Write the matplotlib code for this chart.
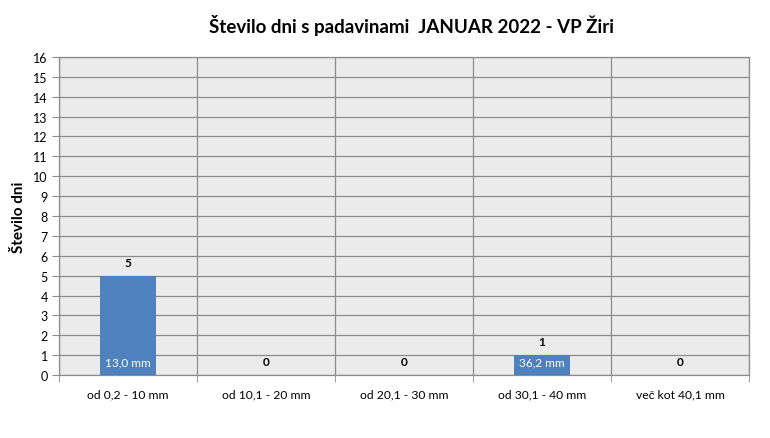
#!/usr/bin/env python3
"""Število dni s padavinami, JANUAR 2022 - VP Žiri."""

import matplotlib
matplotlib.use("Agg")
import matplotlib.pyplot as plt
import numpy as np

categories = ["od 0,2 - 10 mm", "od 10,1 - 20 mm", "od 20,1 - 30 mm",
              "od 30,1 - 40 mm", "več kot 40,1 mm"]
days = [5, 0, 0, 1, 0]
amounts = ["13,0 mm", "", "", "36,2 mm", ""]

BAR = "#4F81BD"
GRID = "#8C8C8C"
BG = "#EBEBEB"

plt.rcParams["font.family"] = ["Lato", "DejaVu Sans"]

fig = plt.figure(figsize=(7.7, 4.39), dpi=100)
ax = fig.add_axes([0.0766, 0.1435, 0.8961, 0.7244])
ax.set_facecolor(BG)

x = np.arange(len(categories))
bars = ax.bar(x, days, width=0.4, color=BAR, zorder=3)

for xi, d, a in zip(x, days, amounts):
    ax.annotate(str(d), (xi, d), textcoords="offset points", xytext=(0, 9.5),
                ha="center", va="center", fontsize=8.5, fontweight="bold", zorder=4)
    if a:
        ax.annotate(a, (xi, 0), textcoords="offset points", xytext=(0, 9.5),
                    ha="center", va="center", fontsize=8.5, color="white", zorder=4)

ax.set_xlim(-0.5, len(categories) - 0.5)
ax.set_ylim(0, 16)
ax.set_yticks(range(0, 17))
ax.set_xticks(x)
ax.set_xticklabels(categories, fontsize=8.7)
ax.set_xticks(np.arange(-0.5, len(categories)), minor=True)
ax.tick_params(axis="x", which="major", length=0, pad=10)
ax.tick_params(axis="x", which="minor", length=5, color=GRID)
ax.tick_params(axis="y", length=5, color=GRID, labelsize=9, pad=3)

ax.grid(True, axis="y", color=GRID, linewidth=0.9, zorder=1)
ax.grid(True, axis="x", which="minor", color=GRID, linewidth=0.9, zorder=1)
ax.set_axisbelow(True)
for sp in ax.spines.values():
    sp.set_color(GRID)
    sp.set_linewidth(0.9)

ax.set_ylabel("Število dni", fontsize=11, fontweight="bold", labelpad=5)
fig.suptitle("Število dni s padavinami  JANUAR 2022 - VP Žiri", fontsize=13.5,
             fontweight="bold", x=0.535, y=0.965)

fig.savefig("out.png", dpi=100)
